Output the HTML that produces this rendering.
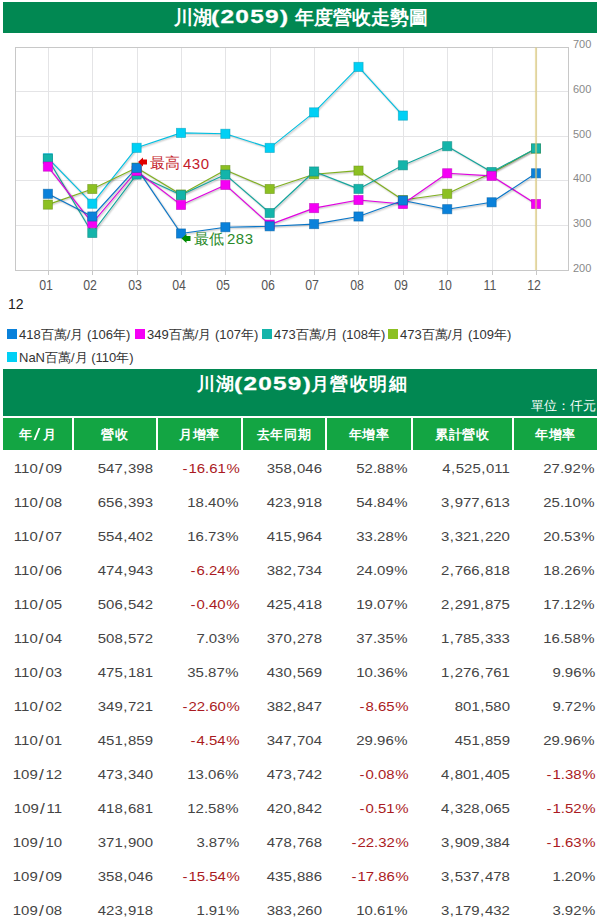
<!DOCTYPE html><html lang="zh-Hant"><head><meta charset="utf-8"><style>
*{margin:0;padding:0;box-sizing:border-box}
body{width:603px;height:923px;overflow:hidden;background:#fff;font-family:"Liberation Sans",sans-serif;position:relative}
.a{position:absolute}
.hdr{position:absolute;left:3px;top:2px;width:594px;height:31px;background:#018852;color:#fff;font-weight:bold;font-size:18px;text-align:center;line-height:31px}
.yl{position:absolute;left:573px;font-size:11px;color:#888;line-height:12px}
.xl{position:absolute;font-size:14px;color:#555;line-height:14px;width:40px;text-align:center;transform:scaleX(.88)}
.lg{position:absolute;font-size:13px;color:#333;line-height:14px;white-space:nowrap}
.sq{position:absolute;width:10px;height:10px}
.th{position:absolute;top:418px;height:32px;background:#13a543;color:#fff;font-weight:bold;font-size:13px;letter-spacing:0.6px;text-align:center;line-height:33px}
.td{position:absolute;height:32px;font-size:13px;color:#444;line-height:32px;white-space:nowrap}
.r{color:#aa1a22}
.tt{color:#fff;line-height:20px;white-space:nowrap}
.sl{padding:0 1.5px 0 1px;font-size:15px;line-height:10px;position:relative;top:0.5px}
.cm{padding:0 0.6px 0 0.4px}
.hy{padding:0 0.8px 0 0}
.pc{padding-left:0.5px}
</style></head><body>

<div class="hdr"></div>
<div class="a tt" style="left:174.40px;top:8px;font-size:18.67px;font-weight:bold">川湖</div>
<div class="a tt" style="left:210.81px;top:6px;font-size:19px;font-weight:bold;letter-spacing:1px;line-height:22px;-webkit-text-stroke:0.3px #fff;transform:scaleX(1.2859649122807018);transform-origin:0 0">(2059)</div>
<div class="a tt" style="left:295.40px;top:8px;font-size:18.67px;font-weight:bold">年度營收走勢圖</div>
<svg width="603" height="300" style="position:absolute;left:0;top:0">
<line x1="15" y1="91.5" x2="569" y2="91.5" stroke="#e4e4e6" stroke-width="1"/>
<line x1="15" y1="136.5" x2="569" y2="136.5" stroke="#e4e4e6" stroke-width="1"/>
<line x1="15" y1="180.5" x2="569" y2="180.5" stroke="#e4e4e6" stroke-width="1"/>
<line x1="15" y1="225.5" x2="569" y2="225.5" stroke="#e4e4e6" stroke-width="1"/>
<line x1="48.5" y1="47" x2="48.5" y2="270" stroke="#e4e4e6" stroke-width="1"/>
<line x1="92.5" y1="47" x2="92.5" y2="270" stroke="#e4e4e6" stroke-width="1"/>
<line x1="137.5" y1="47" x2="137.5" y2="270" stroke="#e4e4e6" stroke-width="1"/>
<line x1="181.5" y1="47" x2="181.5" y2="270" stroke="#e4e4e6" stroke-width="1"/>
<line x1="225.5" y1="47" x2="225.5" y2="270" stroke="#e4e4e6" stroke-width="1"/>
<line x1="270.5" y1="47" x2="270.5" y2="270" stroke="#e4e4e6" stroke-width="1"/>
<line x1="314.5" y1="47" x2="314.5" y2="270" stroke="#e4e4e6" stroke-width="1"/>
<line x1="358.5" y1="47" x2="358.5" y2="270" stroke="#e4e4e6" stroke-width="1"/>
<line x1="403.5" y1="47" x2="403.5" y2="270" stroke="#e4e4e6" stroke-width="1"/>
<line x1="447.5" y1="47" x2="447.5" y2="270" stroke="#e4e4e6" stroke-width="1"/>
<line x1="492.5" y1="47" x2="492.5" y2="270" stroke="#e4e4e6" stroke-width="1"/>
<line x1="536.5" y1="47" x2="536.5" y2="270" stroke="#e4e4e6" stroke-width="1"/>
<rect x="15.5" y="47.5" width="553" height="223" fill="none" stroke="#c8c8c8" stroke-width="1"/>
<line x1="48.5" y1="270" x2="48.5" y2="275" stroke="#c8c8c8" stroke-width="1"/>
<line x1="92.5" y1="270" x2="92.5" y2="275" stroke="#c8c8c8" stroke-width="1"/>
<line x1="137.5" y1="270" x2="137.5" y2="275" stroke="#c8c8c8" stroke-width="1"/>
<line x1="181.5" y1="270" x2="181.5" y2="275" stroke="#c8c8c8" stroke-width="1"/>
<line x1="225.5" y1="270" x2="225.5" y2="275" stroke="#c8c8c8" stroke-width="1"/>
<line x1="270.5" y1="270" x2="270.5" y2="275" stroke="#c8c8c8" stroke-width="1"/>
<line x1="314.5" y1="270" x2="314.5" y2="275" stroke="#c8c8c8" stroke-width="1"/>
<line x1="358.5" y1="270" x2="358.5" y2="275" stroke="#c8c8c8" stroke-width="1"/>
<line x1="403.5" y1="270" x2="403.5" y2="275" stroke="#c8c8c8" stroke-width="1"/>
<line x1="447.5" y1="270" x2="447.5" y2="275" stroke="#c8c8c8" stroke-width="1"/>
<line x1="492.5" y1="270" x2="492.5" y2="275" stroke="#c8c8c8" stroke-width="1"/>
<line x1="536.5" y1="270" x2="536.5" y2="275" stroke="#c8c8c8" stroke-width="1"/>
<polyline points="47.9,158.2 92.3,203.7 136.6,147.8 181.0,132.9 225.4,133.8 269.8,147.9 314.1,112.4 358.5,66.9 402.9,115.6" fill="none" stroke="#000" stroke-opacity="0.03" stroke-width="4" stroke-linejoin="round" transform="translate(1,1)"/>
<polyline points="47.9,158.2 92.3,203.7 136.6,147.8 181.0,132.9 225.4,133.8 269.8,147.9 314.1,112.4 358.5,66.9 402.9,115.6" fill="none" stroke="#000" stroke-opacity="0.05" stroke-width="2.5" stroke-linejoin="round" transform="translate(1,1)"/>
<polyline points="47.9,158.2 92.3,203.7 136.6,147.8 181.0,132.9 225.4,133.8 269.8,147.9 314.1,112.4 358.5,66.9 402.9,115.6" fill="none" stroke="#000" stroke-opacity="0.08" stroke-width="1.2" stroke-linejoin="round" transform="translate(1,1)"/>
<polyline points="47.9,158.2 92.3,203.7 136.6,147.8 181.0,132.9 225.4,133.8 269.8,147.9 314.1,112.4 358.5,66.9 402.9,115.6" fill="none" stroke="#00bfe1" stroke-width="1.15" stroke-linejoin="round"/>
<polyline points="47.9,204.6 92.3,189.0 136.6,167.7 181.0,194.5 225.4,170.0 269.8,189.0 314.1,174.2 358.5,170.6 402.9,200.0 447.2,193.8 491.6,173.0 536.0,148.6" fill="none" stroke="#000" stroke-opacity="0.03" stroke-width="4" stroke-linejoin="round" transform="translate(1,1)"/>
<polyline points="47.9,204.6 92.3,189.0 136.6,167.7 181.0,194.5 225.4,170.0 269.8,189.0 314.1,174.2 358.5,170.6 402.9,200.0 447.2,193.8 491.6,173.0 536.0,148.6" fill="none" stroke="#000" stroke-opacity="0.05" stroke-width="2.5" stroke-linejoin="round" transform="translate(1,1)"/>
<polyline points="47.9,204.6 92.3,189.0 136.6,167.7 181.0,194.5 225.4,170.0 269.8,189.0 314.1,174.2 358.5,170.6 402.9,200.0 447.2,193.8 491.6,173.0 536.0,148.6" fill="none" stroke="#000" stroke-opacity="0.08" stroke-width="1.2" stroke-linejoin="round" transform="translate(1,1)"/>
<polyline points="47.9,204.6 92.3,189.0 136.6,167.7 181.0,194.5 225.4,170.0 269.8,189.0 314.1,174.2 358.5,170.6 402.9,200.0 447.2,193.8 491.6,173.0 536.0,148.6" fill="none" stroke="#80b01f" stroke-width="1.15" stroke-linejoin="round"/>
<polyline points="47.9,159.0 92.3,233.0 136.6,174.6 181.0,195.1 225.4,174.6 269.8,213.0 314.1,171.5 358.5,188.9 402.9,165.3 447.2,146.2 491.6,172.0 536.0,148.4" fill="none" stroke="#000" stroke-opacity="0.03" stroke-width="4" stroke-linejoin="round" transform="translate(1,1)"/>
<polyline points="47.9,159.0 92.3,233.0 136.6,174.6 181.0,195.1 225.4,174.6 269.8,213.0 314.1,171.5 358.5,188.9 402.9,165.3 447.2,146.2 491.6,172.0 536.0,148.4" fill="none" stroke="#000" stroke-opacity="0.05" stroke-width="2.5" stroke-linejoin="round" transform="translate(1,1)"/>
<polyline points="47.9,159.0 92.3,233.0 136.6,174.6 181.0,195.1 225.4,174.6 269.8,213.0 314.1,171.5 358.5,188.9 402.9,165.3 447.2,146.2 491.6,172.0 536.0,148.4" fill="none" stroke="#000" stroke-opacity="0.08" stroke-width="1.2" stroke-linejoin="round" transform="translate(1,1)"/>
<polyline points="47.9,159.0 92.3,233.0 136.6,174.6 181.0,195.1 225.4,174.6 269.8,213.0 314.1,171.5 358.5,188.9 402.9,165.3 447.2,146.2 491.6,172.0 536.0,148.4" fill="none" stroke="#12a59c" stroke-width="1.15" stroke-linejoin="round"/>
<polyline points="47.9,166.6 92.3,223.2 136.6,171.0 181.0,204.9 225.4,184.9 269.8,224.6 314.1,208.1 358.5,200.0 402.9,204.0 447.2,173.3 491.6,175.9 536.0,204.0" fill="none" stroke="#000" stroke-opacity="0.03" stroke-width="4" stroke-linejoin="round" transform="translate(1,1)"/>
<polyline points="47.9,166.6 92.3,223.2 136.6,171.0 181.0,204.9 225.4,184.9 269.8,224.6 314.1,208.1 358.5,200.0 402.9,204.0 447.2,173.3 491.6,175.9 536.0,204.0" fill="none" stroke="#000" stroke-opacity="0.05" stroke-width="2.5" stroke-linejoin="round" transform="translate(1,1)"/>
<polyline points="47.9,166.6 92.3,223.2 136.6,171.0 181.0,204.9 225.4,184.9 269.8,224.6 314.1,208.1 358.5,200.0 402.9,204.0 447.2,173.3 491.6,175.9 536.0,204.0" fill="none" stroke="#000" stroke-opacity="0.08" stroke-width="1.2" stroke-linejoin="round" transform="translate(1,1)"/>
<polyline points="47.9,166.6 92.3,223.2 136.6,171.0 181.0,204.9 225.4,184.9 269.8,224.6 314.1,208.1 358.5,200.0 402.9,204.0 447.2,173.3 491.6,175.9 536.0,204.0" fill="none" stroke="#e100e1" stroke-width="1.15" stroke-linejoin="round"/>
<polyline points="47.9,193.8 92.3,216.5 136.6,167.9 181.0,233.5 225.4,227.2 269.8,226.3 314.1,224.1 358.5,216.5 402.9,200.5 447.2,209.2 491.6,202.3 536.0,173.3" fill="none" stroke="#000" stroke-opacity="0.03" stroke-width="4" stroke-linejoin="round" transform="translate(1,1)"/>
<polyline points="47.9,193.8 92.3,216.5 136.6,167.9 181.0,233.5 225.4,227.2 269.8,226.3 314.1,224.1 358.5,216.5 402.9,200.5 447.2,209.2 491.6,202.3 536.0,173.3" fill="none" stroke="#000" stroke-opacity="0.05" stroke-width="2.5" stroke-linejoin="round" transform="translate(1,1)"/>
<polyline points="47.9,193.8 92.3,216.5 136.6,167.9 181.0,233.5 225.4,227.2 269.8,226.3 314.1,224.1 358.5,216.5 402.9,200.5 447.2,209.2 491.6,202.3 536.0,173.3" fill="none" stroke="#000" stroke-opacity="0.08" stroke-width="1.2" stroke-linejoin="round" transform="translate(1,1)"/>
<polyline points="47.9,193.8 92.3,216.5 136.6,167.9 181.0,233.5 225.4,227.2 269.8,226.3 314.1,224.1 358.5,216.5 402.9,200.5 447.2,209.2 491.6,202.3 536.0,173.3" fill="none" stroke="#0976c8" stroke-width="1.15" stroke-linejoin="round"/>
<rect x="43.3" y="153.6" width="9.2" height="9.2" fill="#00d0f5" stroke="#009cb7" stroke-opacity="0.6" stroke-width="0.8"/>
<rect x="87.7" y="199.1" width="9.2" height="9.2" fill="#00d0f5" stroke="#009cb7" stroke-opacity="0.6" stroke-width="0.8"/>
<rect x="132.0" y="143.2" width="9.2" height="9.2" fill="#00d0f5" stroke="#009cb7" stroke-opacity="0.6" stroke-width="0.8"/>
<rect x="176.4" y="128.3" width="9.2" height="9.2" fill="#00d0f5" stroke="#009cb7" stroke-opacity="0.6" stroke-width="0.8"/>
<rect x="220.8" y="129.2" width="9.2" height="9.2" fill="#00d0f5" stroke="#009cb7" stroke-opacity="0.6" stroke-width="0.8"/>
<rect x="265.1" y="143.3" width="9.2" height="9.2" fill="#00d0f5" stroke="#009cb7" stroke-opacity="0.6" stroke-width="0.8"/>
<rect x="309.5" y="107.8" width="9.2" height="9.2" fill="#00d0f5" stroke="#009cb7" stroke-opacity="0.6" stroke-width="0.8"/>
<rect x="353.9" y="62.3" width="9.2" height="9.2" fill="#00d0f5" stroke="#009cb7" stroke-opacity="0.6" stroke-width="0.8"/>
<rect x="398.3" y="111.0" width="9.2" height="9.2" fill="#00d0f5" stroke="#009cb7" stroke-opacity="0.6" stroke-width="0.8"/>
<rect x="43.3" y="200.0" width="9.2" height="9.2" fill="#8cc022" stroke="#699019" stroke-opacity="0.6" stroke-width="0.8"/>
<rect x="87.7" y="184.4" width="9.2" height="9.2" fill="#8cc022" stroke="#699019" stroke-opacity="0.6" stroke-width="0.8"/>
<rect x="132.0" y="163.1" width="9.2" height="9.2" fill="#8cc022" stroke="#699019" stroke-opacity="0.6" stroke-width="0.8"/>
<rect x="176.4" y="189.9" width="9.2" height="9.2" fill="#8cc022" stroke="#699019" stroke-opacity="0.6" stroke-width="0.8"/>
<rect x="220.8" y="165.4" width="9.2" height="9.2" fill="#8cc022" stroke="#699019" stroke-opacity="0.6" stroke-width="0.8"/>
<rect x="265.1" y="184.4" width="9.2" height="9.2" fill="#8cc022" stroke="#699019" stroke-opacity="0.6" stroke-width="0.8"/>
<rect x="309.5" y="169.6" width="9.2" height="9.2" fill="#8cc022" stroke="#699019" stroke-opacity="0.6" stroke-width="0.8"/>
<rect x="353.9" y="166.0" width="9.2" height="9.2" fill="#8cc022" stroke="#699019" stroke-opacity="0.6" stroke-width="0.8"/>
<rect x="398.3" y="195.4" width="9.2" height="9.2" fill="#8cc022" stroke="#699019" stroke-opacity="0.6" stroke-width="0.8"/>
<rect x="442.6" y="189.2" width="9.2" height="9.2" fill="#8cc022" stroke="#699019" stroke-opacity="0.6" stroke-width="0.8"/>
<rect x="487.0" y="168.4" width="9.2" height="9.2" fill="#8cc022" stroke="#699019" stroke-opacity="0.6" stroke-width="0.8"/>
<rect x="531.4" y="144.0" width="9.2" height="9.2" fill="#8cc022" stroke="#699019" stroke-opacity="0.6" stroke-width="0.8"/>
<rect x="43.3" y="154.4" width="9.2" height="9.2" fill="#14b4aa" stroke="#0f877f" stroke-opacity="0.6" stroke-width="0.8"/>
<rect x="87.7" y="228.4" width="9.2" height="9.2" fill="#14b4aa" stroke="#0f877f" stroke-opacity="0.6" stroke-width="0.8"/>
<rect x="132.0" y="170.0" width="9.2" height="9.2" fill="#14b4aa" stroke="#0f877f" stroke-opacity="0.6" stroke-width="0.8"/>
<rect x="176.4" y="190.5" width="9.2" height="9.2" fill="#14b4aa" stroke="#0f877f" stroke-opacity="0.6" stroke-width="0.8"/>
<rect x="220.8" y="170.0" width="9.2" height="9.2" fill="#14b4aa" stroke="#0f877f" stroke-opacity="0.6" stroke-width="0.8"/>
<rect x="265.1" y="208.4" width="9.2" height="9.2" fill="#14b4aa" stroke="#0f877f" stroke-opacity="0.6" stroke-width="0.8"/>
<rect x="309.5" y="166.9" width="9.2" height="9.2" fill="#14b4aa" stroke="#0f877f" stroke-opacity="0.6" stroke-width="0.8"/>
<rect x="353.9" y="184.3" width="9.2" height="9.2" fill="#14b4aa" stroke="#0f877f" stroke-opacity="0.6" stroke-width="0.8"/>
<rect x="398.3" y="160.7" width="9.2" height="9.2" fill="#14b4aa" stroke="#0f877f" stroke-opacity="0.6" stroke-width="0.8"/>
<rect x="442.6" y="141.6" width="9.2" height="9.2" fill="#14b4aa" stroke="#0f877f" stroke-opacity="0.6" stroke-width="0.8"/>
<rect x="487.0" y="167.4" width="9.2" height="9.2" fill="#14b4aa" stroke="#0f877f" stroke-opacity="0.6" stroke-width="0.8"/>
<rect x="531.4" y="143.8" width="9.2" height="9.2" fill="#14b4aa" stroke="#0f877f" stroke-opacity="0.6" stroke-width="0.8"/>
<rect x="43.3" y="162.0" width="9.2" height="9.2" fill="#f500f5" stroke="#b700b7" stroke-opacity="0.6" stroke-width="0.8"/>
<rect x="87.7" y="218.6" width="9.2" height="9.2" fill="#f500f5" stroke="#b700b7" stroke-opacity="0.6" stroke-width="0.8"/>
<rect x="132.0" y="166.4" width="9.2" height="9.2" fill="#f500f5" stroke="#b700b7" stroke-opacity="0.6" stroke-width="0.8"/>
<rect x="176.4" y="200.3" width="9.2" height="9.2" fill="#f500f5" stroke="#b700b7" stroke-opacity="0.6" stroke-width="0.8"/>
<rect x="220.8" y="180.3" width="9.2" height="9.2" fill="#f500f5" stroke="#b700b7" stroke-opacity="0.6" stroke-width="0.8"/>
<rect x="265.1" y="220.0" width="9.2" height="9.2" fill="#f500f5" stroke="#b700b7" stroke-opacity="0.6" stroke-width="0.8"/>
<rect x="309.5" y="203.5" width="9.2" height="9.2" fill="#f500f5" stroke="#b700b7" stroke-opacity="0.6" stroke-width="0.8"/>
<rect x="353.9" y="195.4" width="9.2" height="9.2" fill="#f500f5" stroke="#b700b7" stroke-opacity="0.6" stroke-width="0.8"/>
<rect x="398.3" y="199.4" width="9.2" height="9.2" fill="#f500f5" stroke="#b700b7" stroke-opacity="0.6" stroke-width="0.8"/>
<rect x="442.6" y="168.7" width="9.2" height="9.2" fill="#f500f5" stroke="#b700b7" stroke-opacity="0.6" stroke-width="0.8"/>
<rect x="487.0" y="171.3" width="9.2" height="9.2" fill="#f500f5" stroke="#b700b7" stroke-opacity="0.6" stroke-width="0.8"/>
<rect x="531.4" y="199.4" width="9.2" height="9.2" fill="#f500f5" stroke="#b700b7" stroke-opacity="0.6" stroke-width="0.8"/>
<rect x="43.3" y="189.2" width="9.2" height="9.2" fill="#0a81da" stroke="#0760a3" stroke-opacity="0.6" stroke-width="0.8"/>
<rect x="87.7" y="211.9" width="9.2" height="9.2" fill="#0a81da" stroke="#0760a3" stroke-opacity="0.6" stroke-width="0.8"/>
<rect x="132.0" y="163.3" width="9.2" height="9.2" fill="#0a81da" stroke="#0760a3" stroke-opacity="0.6" stroke-width="0.8"/>
<rect x="176.4" y="228.9" width="9.2" height="9.2" fill="#0a81da" stroke="#0760a3" stroke-opacity="0.6" stroke-width="0.8"/>
<rect x="220.8" y="222.6" width="9.2" height="9.2" fill="#0a81da" stroke="#0760a3" stroke-opacity="0.6" stroke-width="0.8"/>
<rect x="265.1" y="221.7" width="9.2" height="9.2" fill="#0a81da" stroke="#0760a3" stroke-opacity="0.6" stroke-width="0.8"/>
<rect x="309.5" y="219.5" width="9.2" height="9.2" fill="#0a81da" stroke="#0760a3" stroke-opacity="0.6" stroke-width="0.8"/>
<rect x="353.9" y="211.9" width="9.2" height="9.2" fill="#0a81da" stroke="#0760a3" stroke-opacity="0.6" stroke-width="0.8"/>
<rect x="398.3" y="195.9" width="9.2" height="9.2" fill="#0a81da" stroke="#0760a3" stroke-opacity="0.6" stroke-width="0.8"/>
<rect x="442.6" y="204.6" width="9.2" height="9.2" fill="#0a81da" stroke="#0760a3" stroke-opacity="0.6" stroke-width="0.8"/>
<rect x="487.0" y="197.7" width="9.2" height="9.2" fill="#0a81da" stroke="#0760a3" stroke-opacity="0.6" stroke-width="0.8"/>
<rect x="531.4" y="168.7" width="9.2" height="9.2" fill="#0a81da" stroke="#0760a3" stroke-opacity="0.6" stroke-width="0.8"/>
<line x1="536" y1="47.5" x2="536" y2="270" stroke="rgb(220,200,115)" stroke-opacity="0.6" stroke-width="2.2"/>
<path d="M138 162 L143 157.5 L143 159.5 L147 159.5 L147 164.5 L143 164.5 L143 166.5 Z" fill="#e00000"/>
<path d="M181.5 238.5 L186.5 234 L186.5 236 L190.5 236 L190.5 241 L186.5 241 L186.5 243 Z" fill="#008a00"/>
</svg>
<div class="yl" style="top:38px">700</div>
<div class="yl" style="top:83px">600</div>
<div class="yl" style="top:128px">500</div>
<div class="yl" style="top:172px">400</div>
<div class="yl" style="top:217px">300</div>
<div class="yl" style="top:262px">200</div>
<div class="xl" style="left:25.9px;top:278px">01</div>
<div class="xl" style="left:70.3px;top:278px">02</div>
<div class="xl" style="left:114.6px;top:278px">03</div>
<div class="xl" style="left:159.0px;top:278px">04</div>
<div class="xl" style="left:203.4px;top:278px">05</div>
<div class="xl" style="left:247.8px;top:278px">06</div>
<div class="xl" style="left:292.1px;top:278px">07</div>
<div class="xl" style="left:336.5px;top:278px">08</div>
<div class="xl" style="left:380.9px;top:278px">09</div>
<div class="xl" style="left:425.2px;top:278px">10</div>
<div class="xl" style="left:469.6px;top:278px">11</div>
<div class="xl" style="left:514.0px;top:278px">12</div>
<div class="a" style="left:8px;top:297px;font-size:14px;color:#222;line-height:14px">12</div>
<div class="a" style="left:149.5px;top:155px;font-size:14.5px;color:#c41a2a;line-height:16px;letter-spacing:0.3px">最高</div>
<div class="a" style="left:183px;top:155.5px;font-size:15px;color:#c41a2a;line-height:16px;letter-spacing:0.5px">430</div>
<div class="a" style="left:193.5px;top:231px;font-size:14.5px;color:#2a8a2a;line-height:16px;letter-spacing:0.3px">最低</div>
<div class="a" style="left:227px;top:231px;font-size:15px;color:#2a8a2a;line-height:16px;letter-spacing:0.5px">283</div>
<div class="sq" style="left:7px;top:329px;background:#0a81da"></div>
<div class="lg" style="left:19px;top:328px">418百萬/月 (106年)</div>
<div class="sq" style="left:135px;top:329px;background:#f500f5"></div>
<div class="lg" style="left:147px;top:328px">349百萬/月 (107年)</div>
<div class="sq" style="left:262px;top:329px;background:#14b4aa"></div>
<div class="lg" style="left:274px;top:328px">473百萬/月 (108年)</div>
<div class="sq" style="left:388px;top:329px;background:#8cc022"></div>
<div class="lg" style="left:400px;top:328px">473百萬/月 (109年)</div>
<div class="sq" style="left:7px;top:352px;background:#00d0f5"></div>
<div class="lg" style="left:19px;top:351px">NaN百萬/月 (110年)</div>
<div class="a" style="left:3px;top:369px;width:594px;height:47px;background:#018852"></div>
<div class="a tt" style="left:197.00px;top:374px;font-size:18px;font-weight:bold;letter-spacing:1px">川湖</div>
<div class="a tt" style="left:234.02px;top:373px;font-size:19px;font-weight:bold;letter-spacing:1px;line-height:22px;-webkit-text-stroke:0.3px #fff;transform:scaleX(1.280701754385965);transform-origin:0 0">(2059)</div>
<div class="a tt" style="left:311.00px;top:374px;font-size:18px;font-weight:bold;letter-spacing:1.4px">月營收明細</div>
<div class="a" style="left:400px;top:398px;width:196px;text-align:right;color:#fff;font-size:13px;line-height:16px">單位：仟元</div>
<div class="th" style="left:3px;width:69px">年<span style="display:inline-block;width:8px;height:12px;margin:0 1.5px 0 1px;vertical-align:-1px;position:relative"><i style="position:absolute;left:3px;top:0;width:2.2px;height:12px;background:#fff;transform:skewX(-22deg)"></i></span>月</div>
<div class="th" style="left:74px;width:82px">營收</div>
<div class="th" style="left:158px;width:83px">月增率</div>
<div class="th" style="left:243px;width:82px">去年同期</div>
<div class="th" style="left:327px;width:84px">年增率</div>
<div class="th" style="left:413px;width:99px">累計營收</div>
<div class="th" style="left:514px;width:83px">年增率</div>
<div class="td" style="left:3px;width:69px;top:453px;text-align:center"><span style="display:inline-block;transform:scaleX(1.15);transform-origin:50% 0">110<span class="sl">/</span>09</span></div>
<div class="td" style="left:74px;width:79px;top:453px;text-align:right"><span style="display:inline-block;transform:scaleX(1.15);transform-origin:100% 0">547<span class="cm">,</span>398</span></div>
<div class="td r" style="left:158px;width:82px;top:453px;text-align:right"><span style="display:inline-block;transform:scaleX(1.15);transform-origin:100% 0"><span class="hy">-</span>16.61<span class="pc">%</span></span></div>
<div class="td" style="left:243px;width:79px;top:453px;text-align:right"><span style="display:inline-block;transform:scaleX(1.15);transform-origin:100% 0">358<span class="cm">,</span>046</span></div>
<div class="td" style="left:327px;width:81px;top:453px;text-align:right"><span style="display:inline-block;transform:scaleX(1.15);transform-origin:100% 0">52.88<span class="pc">%</span></span></div>
<div class="td" style="left:413px;width:97px;top:453px;text-align:right"><span style="display:inline-block;transform:scaleX(1.15);transform-origin:100% 0">4<span class="cm">,</span>525<span class="cm">,</span>011</span></div>
<div class="td" style="left:514px;width:81px;top:453px;text-align:right"><span style="display:inline-block;transform:scaleX(1.15);transform-origin:100% 0">27.92<span class="pc">%</span></span></div>
<div class="td" style="left:3px;width:69px;top:487px;text-align:center"><span style="display:inline-block;transform:scaleX(1.15);transform-origin:50% 0">110<span class="sl">/</span>08</span></div>
<div class="td" style="left:74px;width:79px;top:487px;text-align:right"><span style="display:inline-block;transform:scaleX(1.15);transform-origin:100% 0">656<span class="cm">,</span>393</span></div>
<div class="td" style="left:158px;width:81px;top:487px;text-align:right"><span style="display:inline-block;transform:scaleX(1.15);transform-origin:100% 0">18.40<span class="pc">%</span></span></div>
<div class="td" style="left:243px;width:79px;top:487px;text-align:right"><span style="display:inline-block;transform:scaleX(1.15);transform-origin:100% 0">423<span class="cm">,</span>918</span></div>
<div class="td" style="left:327px;width:81px;top:487px;text-align:right"><span style="display:inline-block;transform:scaleX(1.15);transform-origin:100% 0">54.84<span class="pc">%</span></span></div>
<div class="td" style="left:413px;width:97px;top:487px;text-align:right"><span style="display:inline-block;transform:scaleX(1.15);transform-origin:100% 0">3<span class="cm">,</span>977<span class="cm">,</span>613</span></div>
<div class="td" style="left:514px;width:81px;top:487px;text-align:right"><span style="display:inline-block;transform:scaleX(1.15);transform-origin:100% 0">25.10<span class="pc">%</span></span></div>
<div class="td" style="left:3px;width:69px;top:521px;text-align:center"><span style="display:inline-block;transform:scaleX(1.15);transform-origin:50% 0">110<span class="sl">/</span>07</span></div>
<div class="td" style="left:74px;width:79px;top:521px;text-align:right"><span style="display:inline-block;transform:scaleX(1.15);transform-origin:100% 0">554<span class="cm">,</span>402</span></div>
<div class="td" style="left:158px;width:81px;top:521px;text-align:right"><span style="display:inline-block;transform:scaleX(1.15);transform-origin:100% 0">16.73<span class="pc">%</span></span></div>
<div class="td" style="left:243px;width:79px;top:521px;text-align:right"><span style="display:inline-block;transform:scaleX(1.15);transform-origin:100% 0">415<span class="cm">,</span>964</span></div>
<div class="td" style="left:327px;width:81px;top:521px;text-align:right"><span style="display:inline-block;transform:scaleX(1.15);transform-origin:100% 0">33.28<span class="pc">%</span></span></div>
<div class="td" style="left:413px;width:97px;top:521px;text-align:right"><span style="display:inline-block;transform:scaleX(1.15);transform-origin:100% 0">3<span class="cm">,</span>321<span class="cm">,</span>220</span></div>
<div class="td" style="left:514px;width:81px;top:521px;text-align:right"><span style="display:inline-block;transform:scaleX(1.15);transform-origin:100% 0">20.53<span class="pc">%</span></span></div>
<div class="td" style="left:3px;width:69px;top:555px;text-align:center"><span style="display:inline-block;transform:scaleX(1.15);transform-origin:50% 0">110<span class="sl">/</span>06</span></div>
<div class="td" style="left:74px;width:79px;top:555px;text-align:right"><span style="display:inline-block;transform:scaleX(1.15);transform-origin:100% 0">474<span class="cm">,</span>943</span></div>
<div class="td r" style="left:158px;width:82px;top:555px;text-align:right"><span style="display:inline-block;transform:scaleX(1.15);transform-origin:100% 0"><span class="hy">-</span>6.24<span class="pc">%</span></span></div>
<div class="td" style="left:243px;width:79px;top:555px;text-align:right"><span style="display:inline-block;transform:scaleX(1.15);transform-origin:100% 0">382<span class="cm">,</span>734</span></div>
<div class="td" style="left:327px;width:81px;top:555px;text-align:right"><span style="display:inline-block;transform:scaleX(1.15);transform-origin:100% 0">24.09<span class="pc">%</span></span></div>
<div class="td" style="left:413px;width:97px;top:555px;text-align:right"><span style="display:inline-block;transform:scaleX(1.15);transform-origin:100% 0">2<span class="cm">,</span>766<span class="cm">,</span>818</span></div>
<div class="td" style="left:514px;width:81px;top:555px;text-align:right"><span style="display:inline-block;transform:scaleX(1.15);transform-origin:100% 0">18.26<span class="pc">%</span></span></div>
<div class="td" style="left:3px;width:69px;top:589px;text-align:center"><span style="display:inline-block;transform:scaleX(1.15);transform-origin:50% 0">110<span class="sl">/</span>05</span></div>
<div class="td" style="left:74px;width:79px;top:589px;text-align:right"><span style="display:inline-block;transform:scaleX(1.15);transform-origin:100% 0">506<span class="cm">,</span>542</span></div>
<div class="td r" style="left:158px;width:82px;top:589px;text-align:right"><span style="display:inline-block;transform:scaleX(1.15);transform-origin:100% 0"><span class="hy">-</span>0.40<span class="pc">%</span></span></div>
<div class="td" style="left:243px;width:79px;top:589px;text-align:right"><span style="display:inline-block;transform:scaleX(1.15);transform-origin:100% 0">425<span class="cm">,</span>418</span></div>
<div class="td" style="left:327px;width:81px;top:589px;text-align:right"><span style="display:inline-block;transform:scaleX(1.15);transform-origin:100% 0">19.07<span class="pc">%</span></span></div>
<div class="td" style="left:413px;width:97px;top:589px;text-align:right"><span style="display:inline-block;transform:scaleX(1.15);transform-origin:100% 0">2<span class="cm">,</span>291<span class="cm">,</span>875</span></div>
<div class="td" style="left:514px;width:81px;top:589px;text-align:right"><span style="display:inline-block;transform:scaleX(1.15);transform-origin:100% 0">17.12<span class="pc">%</span></span></div>
<div class="td" style="left:3px;width:69px;top:623px;text-align:center"><span style="display:inline-block;transform:scaleX(1.15);transform-origin:50% 0">110<span class="sl">/</span>04</span></div>
<div class="td" style="left:74px;width:79px;top:623px;text-align:right"><span style="display:inline-block;transform:scaleX(1.15);transform-origin:100% 0">508<span class="cm">,</span>572</span></div>
<div class="td" style="left:158px;width:81px;top:623px;text-align:right"><span style="display:inline-block;transform:scaleX(1.15);transform-origin:100% 0">7.03<span class="pc">%</span></span></div>
<div class="td" style="left:243px;width:79px;top:623px;text-align:right"><span style="display:inline-block;transform:scaleX(1.15);transform-origin:100% 0">370<span class="cm">,</span>278</span></div>
<div class="td" style="left:327px;width:81px;top:623px;text-align:right"><span style="display:inline-block;transform:scaleX(1.15);transform-origin:100% 0">37.35<span class="pc">%</span></span></div>
<div class="td" style="left:413px;width:97px;top:623px;text-align:right"><span style="display:inline-block;transform:scaleX(1.15);transform-origin:100% 0">1<span class="cm">,</span>785<span class="cm">,</span>333</span></div>
<div class="td" style="left:514px;width:81px;top:623px;text-align:right"><span style="display:inline-block;transform:scaleX(1.15);transform-origin:100% 0">16.58<span class="pc">%</span></span></div>
<div class="td" style="left:3px;width:69px;top:657px;text-align:center"><span style="display:inline-block;transform:scaleX(1.15);transform-origin:50% 0">110<span class="sl">/</span>03</span></div>
<div class="td" style="left:74px;width:79px;top:657px;text-align:right"><span style="display:inline-block;transform:scaleX(1.15);transform-origin:100% 0">475<span class="cm">,</span>181</span></div>
<div class="td" style="left:158px;width:81px;top:657px;text-align:right"><span style="display:inline-block;transform:scaleX(1.15);transform-origin:100% 0">35.87<span class="pc">%</span></span></div>
<div class="td" style="left:243px;width:79px;top:657px;text-align:right"><span style="display:inline-block;transform:scaleX(1.15);transform-origin:100% 0">430<span class="cm">,</span>569</span></div>
<div class="td" style="left:327px;width:81px;top:657px;text-align:right"><span style="display:inline-block;transform:scaleX(1.15);transform-origin:100% 0">10.36<span class="pc">%</span></span></div>
<div class="td" style="left:413px;width:97px;top:657px;text-align:right"><span style="display:inline-block;transform:scaleX(1.15);transform-origin:100% 0">1<span class="cm">,</span>276<span class="cm">,</span>761</span></div>
<div class="td" style="left:514px;width:81px;top:657px;text-align:right"><span style="display:inline-block;transform:scaleX(1.15);transform-origin:100% 0">9.96<span class="pc">%</span></span></div>
<div class="td" style="left:3px;width:69px;top:691px;text-align:center"><span style="display:inline-block;transform:scaleX(1.15);transform-origin:50% 0">110<span class="sl">/</span>02</span></div>
<div class="td" style="left:74px;width:79px;top:691px;text-align:right"><span style="display:inline-block;transform:scaleX(1.15);transform-origin:100% 0">349<span class="cm">,</span>721</span></div>
<div class="td r" style="left:158px;width:82px;top:691px;text-align:right"><span style="display:inline-block;transform:scaleX(1.15);transform-origin:100% 0"><span class="hy">-</span>22.60<span class="pc">%</span></span></div>
<div class="td" style="left:243px;width:79px;top:691px;text-align:right"><span style="display:inline-block;transform:scaleX(1.15);transform-origin:100% 0">382<span class="cm">,</span>847</span></div>
<div class="td r" style="left:327px;width:82px;top:691px;text-align:right"><span style="display:inline-block;transform:scaleX(1.15);transform-origin:100% 0"><span class="hy">-</span>8.65<span class="pc">%</span></span></div>
<div class="td" style="left:413px;width:97px;top:691px;text-align:right"><span style="display:inline-block;transform:scaleX(1.15);transform-origin:100% 0">801<span class="cm">,</span>580</span></div>
<div class="td" style="left:514px;width:81px;top:691px;text-align:right"><span style="display:inline-block;transform:scaleX(1.15);transform-origin:100% 0">9.72<span class="pc">%</span></span></div>
<div class="td" style="left:3px;width:69px;top:725px;text-align:center"><span style="display:inline-block;transform:scaleX(1.15);transform-origin:50% 0">110<span class="sl">/</span>01</span></div>
<div class="td" style="left:74px;width:79px;top:725px;text-align:right"><span style="display:inline-block;transform:scaleX(1.15);transform-origin:100% 0">451<span class="cm">,</span>859</span></div>
<div class="td r" style="left:158px;width:82px;top:725px;text-align:right"><span style="display:inline-block;transform:scaleX(1.15);transform-origin:100% 0"><span class="hy">-</span>4.54<span class="pc">%</span></span></div>
<div class="td" style="left:243px;width:79px;top:725px;text-align:right"><span style="display:inline-block;transform:scaleX(1.15);transform-origin:100% 0">347<span class="cm">,</span>704</span></div>
<div class="td" style="left:327px;width:81px;top:725px;text-align:right"><span style="display:inline-block;transform:scaleX(1.15);transform-origin:100% 0">29.96<span class="pc">%</span></span></div>
<div class="td" style="left:413px;width:97px;top:725px;text-align:right"><span style="display:inline-block;transform:scaleX(1.15);transform-origin:100% 0">451<span class="cm">,</span>859</span></div>
<div class="td" style="left:514px;width:81px;top:725px;text-align:right"><span style="display:inline-block;transform:scaleX(1.15);transform-origin:100% 0">29.96<span class="pc">%</span></span></div>
<div class="td" style="left:3px;width:69px;top:759px;text-align:center"><span style="display:inline-block;transform:scaleX(1.15);transform-origin:50% 0">109<span class="sl">/</span>12</span></div>
<div class="td" style="left:74px;width:79px;top:759px;text-align:right"><span style="display:inline-block;transform:scaleX(1.15);transform-origin:100% 0">473<span class="cm">,</span>340</span></div>
<div class="td" style="left:158px;width:81px;top:759px;text-align:right"><span style="display:inline-block;transform:scaleX(1.15);transform-origin:100% 0">13.06<span class="pc">%</span></span></div>
<div class="td" style="left:243px;width:79px;top:759px;text-align:right"><span style="display:inline-block;transform:scaleX(1.15);transform-origin:100% 0">473<span class="cm">,</span>742</span></div>
<div class="td r" style="left:327px;width:82px;top:759px;text-align:right"><span style="display:inline-block;transform:scaleX(1.15);transform-origin:100% 0"><span class="hy">-</span>0.08<span class="pc">%</span></span></div>
<div class="td" style="left:413px;width:97px;top:759px;text-align:right"><span style="display:inline-block;transform:scaleX(1.15);transform-origin:100% 0">4<span class="cm">,</span>801<span class="cm">,</span>405</span></div>
<div class="td r" style="left:514px;width:82px;top:759px;text-align:right"><span style="display:inline-block;transform:scaleX(1.15);transform-origin:100% 0"><span class="hy">-</span>1.38<span class="pc">%</span></span></div>
<div class="td" style="left:3px;width:69px;top:793px;text-align:center"><span style="display:inline-block;transform:scaleX(1.15);transform-origin:50% 0">109<span class="sl">/</span>11</span></div>
<div class="td" style="left:74px;width:79px;top:793px;text-align:right"><span style="display:inline-block;transform:scaleX(1.15);transform-origin:100% 0">418<span class="cm">,</span>681</span></div>
<div class="td" style="left:158px;width:81px;top:793px;text-align:right"><span style="display:inline-block;transform:scaleX(1.15);transform-origin:100% 0">12.58<span class="pc">%</span></span></div>
<div class="td" style="left:243px;width:79px;top:793px;text-align:right"><span style="display:inline-block;transform:scaleX(1.15);transform-origin:100% 0">420<span class="cm">,</span>842</span></div>
<div class="td r" style="left:327px;width:82px;top:793px;text-align:right"><span style="display:inline-block;transform:scaleX(1.15);transform-origin:100% 0"><span class="hy">-</span>0.51<span class="pc">%</span></span></div>
<div class="td" style="left:413px;width:97px;top:793px;text-align:right"><span style="display:inline-block;transform:scaleX(1.15);transform-origin:100% 0">4<span class="cm">,</span>328<span class="cm">,</span>065</span></div>
<div class="td r" style="left:514px;width:82px;top:793px;text-align:right"><span style="display:inline-block;transform:scaleX(1.15);transform-origin:100% 0"><span class="hy">-</span>1.52<span class="pc">%</span></span></div>
<div class="td" style="left:3px;width:69px;top:827px;text-align:center"><span style="display:inline-block;transform:scaleX(1.15);transform-origin:50% 0">109<span class="sl">/</span>10</span></div>
<div class="td" style="left:74px;width:79px;top:827px;text-align:right"><span style="display:inline-block;transform:scaleX(1.15);transform-origin:100% 0">371<span class="cm">,</span>900</span></div>
<div class="td" style="left:158px;width:81px;top:827px;text-align:right"><span style="display:inline-block;transform:scaleX(1.15);transform-origin:100% 0">3.87<span class="pc">%</span></span></div>
<div class="td" style="left:243px;width:79px;top:827px;text-align:right"><span style="display:inline-block;transform:scaleX(1.15);transform-origin:100% 0">478<span class="cm">,</span>768</span></div>
<div class="td r" style="left:327px;width:82px;top:827px;text-align:right"><span style="display:inline-block;transform:scaleX(1.15);transform-origin:100% 0"><span class="hy">-</span>22.32<span class="pc">%</span></span></div>
<div class="td" style="left:413px;width:97px;top:827px;text-align:right"><span style="display:inline-block;transform:scaleX(1.15);transform-origin:100% 0">3<span class="cm">,</span>909<span class="cm">,</span>384</span></div>
<div class="td r" style="left:514px;width:82px;top:827px;text-align:right"><span style="display:inline-block;transform:scaleX(1.15);transform-origin:100% 0"><span class="hy">-</span>1.63<span class="pc">%</span></span></div>
<div class="td" style="left:3px;width:69px;top:861px;text-align:center"><span style="display:inline-block;transform:scaleX(1.15);transform-origin:50% 0">109<span class="sl">/</span>09</span></div>
<div class="td" style="left:74px;width:79px;top:861px;text-align:right"><span style="display:inline-block;transform:scaleX(1.15);transform-origin:100% 0">358<span class="cm">,</span>046</span></div>
<div class="td r" style="left:158px;width:82px;top:861px;text-align:right"><span style="display:inline-block;transform:scaleX(1.15);transform-origin:100% 0"><span class="hy">-</span>15.54<span class="pc">%</span></span></div>
<div class="td" style="left:243px;width:79px;top:861px;text-align:right"><span style="display:inline-block;transform:scaleX(1.15);transform-origin:100% 0">435<span class="cm">,</span>886</span></div>
<div class="td r" style="left:327px;width:82px;top:861px;text-align:right"><span style="display:inline-block;transform:scaleX(1.15);transform-origin:100% 0"><span class="hy">-</span>17.86<span class="pc">%</span></span></div>
<div class="td" style="left:413px;width:97px;top:861px;text-align:right"><span style="display:inline-block;transform:scaleX(1.15);transform-origin:100% 0">3<span class="cm">,</span>537<span class="cm">,</span>478</span></div>
<div class="td" style="left:514px;width:81px;top:861px;text-align:right"><span style="display:inline-block;transform:scaleX(1.15);transform-origin:100% 0">1.20<span class="pc">%</span></span></div>
<div class="td" style="left:3px;width:69px;top:895px;text-align:center"><span style="display:inline-block;transform:scaleX(1.15);transform-origin:50% 0">109<span class="sl">/</span>08</span></div>
<div class="td" style="left:74px;width:79px;top:895px;text-align:right"><span style="display:inline-block;transform:scaleX(1.15);transform-origin:100% 0">423<span class="cm">,</span>918</span></div>
<div class="td" style="left:158px;width:81px;top:895px;text-align:right"><span style="display:inline-block;transform:scaleX(1.15);transform-origin:100% 0">1.91<span class="pc">%</span></span></div>
<div class="td" style="left:243px;width:79px;top:895px;text-align:right"><span style="display:inline-block;transform:scaleX(1.15);transform-origin:100% 0">383<span class="cm">,</span>260</span></div>
<div class="td" style="left:327px;width:81px;top:895px;text-align:right"><span style="display:inline-block;transform:scaleX(1.15);transform-origin:100% 0">10.61<span class="pc">%</span></span></div>
<div class="td" style="left:413px;width:97px;top:895px;text-align:right"><span style="display:inline-block;transform:scaleX(1.15);transform-origin:100% 0">3<span class="cm">,</span>179<span class="cm">,</span>432</span></div>
<div class="td" style="left:514px;width:81px;top:895px;text-align:right"><span style="display:inline-block;transform:scaleX(1.15);transform-origin:100% 0">3.92<span class="pc">%</span></span></div>
</body></html>
